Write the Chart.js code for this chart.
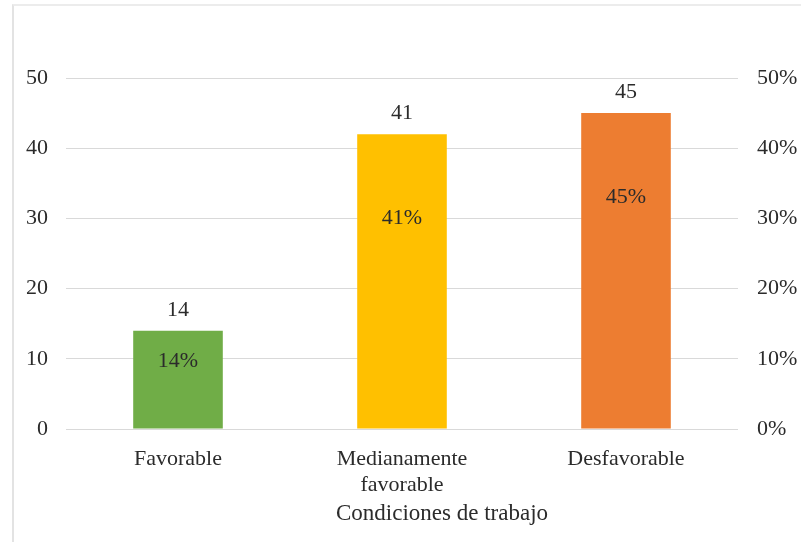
<!DOCTYPE html>
<html>
<head>
<meta charset="utf-8">
<script src="https://cdn.jsdelivr.net/npm/chart.js@4.4.1/dist/chart.umd.min.js"></script>
<style>
    body { margin: 0; background: #fff; }
    #wrap { position: relative; width: 801px; height: 542px; overflow: hidden; }
    #frame { position: absolute; left: 12px; top: 4px; width: 900px; height: 700px; border-left: 2px solid #e3e3e3; border-top: 2px solid #ececec; }
    canvas { position: absolute; left: 0; top: 0; }
</style>
</head>
<body>
<div id="wrap">
    <div id="frame"></div>
    <canvas id="chart" width="801" height="542"></canvas>
</div>
<script>
const categories = ['Favorable', ['Medianamente', 'favorable'], 'Desfavorable'];
const barValues = [14, 42, 45];
const countLabels = ['14', '41', '45'];
const percentLabels = ['14%', '41%', '45%'];
const barColors = ['#70ad47', '#ffc000', '#ed7d31'];
const leftTicks = [0, 10, 20, 30, 40, 50];
const axisTitle = 'Condiciones de trabajo';

const textColor = '#2b2b2b';
const serif = { family: '"Liberation Serif", "Times New Roman", serif', size: 22 };

// value labels above and inside the bars, plus the x axis title
const barLabels = {
    id: 'barLabels',
    afterDatasetsDraw(chart) {
        const ctx = chart.ctx;
        const meta = chart.getDatasetMeta(0);
        const area = chart.chartArea;
        ctx.save();
        ctx.font = '22px "Liberation Serif", serif';
        ctx.fillStyle = textColor;
        ctx.textAlign = 'center';
        ctx.textBaseline = 'middle';
        meta.data.forEach((bar, i) => {
            const h = bar.base - bar.y;
            ctx.fillText(countLabels[i], bar.x, bar.y - 21);
            ctx.fillText(percentLabels[i], bar.x, bar.y + Math.min(h * 0.31, 84));
        });
        ctx.font = '23px "Liberation Serif", serif';
        ctx.fillText(axisTitle, (area.left + area.right) / 2 + 40, area.bottom + 85);
        ctx.restore();
    }
};

new Chart(document.getElementById('chart'), {
    type: 'bar',
    data: {
        labels: categories,
        datasets: [{
            data: barValues,
            backgroundColor: barColors,
            categoryPercentage: 1,
            barPercentage: 0.4,
        }]
    },
    options: {
        responsive: false,
        animation: false,
        layout: { padding: { top: 78, left: 0, right: 0, bottom: 0 } },
        plugins: { legend: { display: false }, tooltip: { enabled: false } },
        scales: {
            x: {
                grid: { display: false, drawTicks: false },
                border: { display: false },
                ticks: { color: textColor, font: serif, padding: 17, maxRotation: 0 },
                afterFit(scale) { scale.height = 113; }
            },
            y: {
                position: 'left',
                min: 0, max: 50,
                afterBuildTicks(scale) { scale.ticks = leftTicks.map(v => ({ value: v })); },
                grid: { color: '#d9d9d9', drawTicks: false },
                border: { display: false },
                ticks: { color: textColor, font: serif, padding: 18 },
                afterFit(scale) { scale.width = 66; }
            },
            y1: {
                position: 'right',
                min: 0, max: 50,
                afterBuildTicks(scale) { scale.ticks = leftTicks.map(v => ({ value: v })); },
                grid: { display: false, drawTicks: false },
                border: { display: false },
                ticks: { color: textColor, font: serif, padding: 19, callback: v => v + '%' },
                afterFit(scale) { scale.width = 63; }
            }
        }
    },
    plugins: [barLabels]
});
</script>
</body>
</html>
